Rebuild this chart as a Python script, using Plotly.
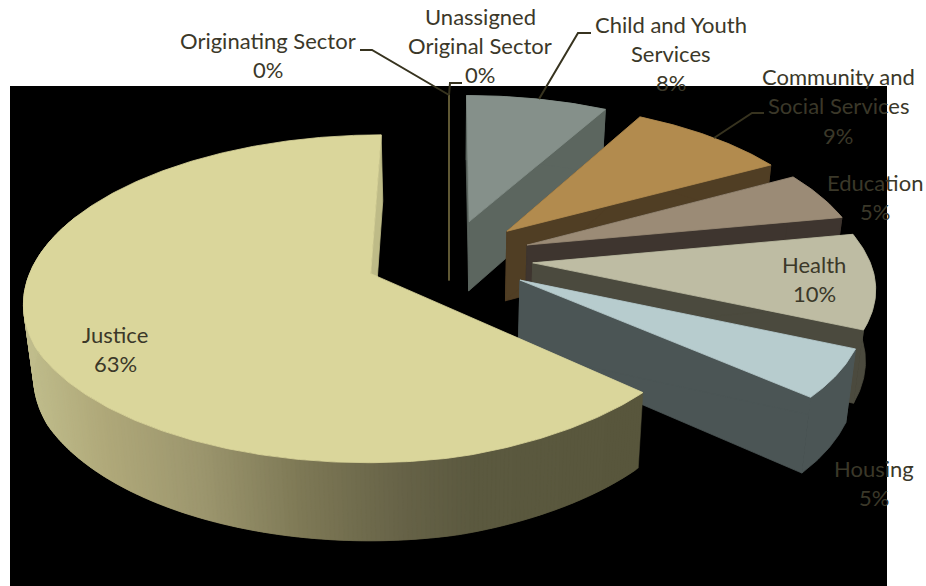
import numpy as np
import plotly.graph_objects as go

# Sector shares, in clockwise order from twelve o'clock
sectors = ["Originating Sector", "Unassigned Original Sector", "Child and Youth Services",
           "Community and Social Services", "Education", "Health", "Housing", "Justice"]
shares = [0, 0, 8, 9, 5, 10, 5, 63]
top_colors = ["#655f38", "#655f38", "#85908a", "#b28b4e", "#9b8b76", "#bebca3", "#b7ccce", "#dad69b"]
wall_colors = ["#655f38", "#655f38", "#5c665f", "#503e24", "#3e352f", "#4b4a3e", "#4b5555", "#bebb87"]

# Text rows per label: centre x, centre y, text
label_rows = [
    (268, 42, "Originating Sector"), (268, 71, "0%"),
    (480, 18, "Unassigned"), (480, 47, "Original Sector"), (480, 76, "0%"),
    (671, 26, "Child and Youth"), (671, 55, "Services"), (671, 84, "8%"),
    (838, 78, "Community and"), (838, 107, "Social Services"), (838, 137, "9%"),
    (875, 184, "Education"), (875, 213, "5%"),
    (814, 266, "Health"), (814, 295, "10%"),
    (874, 470, "Housing"), (874, 499, "5%"),
    (115, 336, "Justice"), (115, 365, "63%"),
]
leaders = [
    ([360, 372, 449], [50, 50, 95]),
    ([462, 450, 449], [83, 83, 95]),
    ([591, 578, 539], [33, 33, 99]),
    ([764, 752, 714], [113, 113, 138]),
]

# Camera for the tilted pie: centre on screen, radii and perspective strength
CX, CY = 449.0, 258.0
RX, RY = 336.0, 155.3
PERSPECTIVE = 0.151
EXPLODE = 0.25
ZERO_SLICE_DEPTH = 60
TEXT_COLOR = "#3b3829"
LEADER_COLOR = "#37331f"

# Shading of the long rim of the largest slice, by screen x
RIM_X = [25, 100, 200, 300, 400, 470, 650]
RIM_R = [192, 176, 156, 126, 103, 92, 88]
RIM_G = [189, 169, 150, 121, 99, 90, 86]
RIM_B = [140, 122, 110, 86, 72, 64, 60]


def project(u, v):
    # small lens correction for the near right-hand quadrant of the disc
    v = v - 0.045 * np.maximum(u, 0) * np.maximum(v, 0)
    u = u + 0.05 * np.maximum(v - 0.55, 0)
    d = 1 - PERSPECTIVE * v
    return CX + RX * u / d, CY + RY * v / d


def drop(x, y):
    """Map a point on the top face to the matching point on the bottom face."""
    return CX + (x - CX) * 0.976, y * 1.037 + 61


def polar(deg, offset):
    a = np.radians(deg)
    return offset[0] + np.sin(a), offset[1] - np.cos(a)


fig = go.Figure()


def polygon(x, y, color, width=0.8):
    x, y = np.asarray(x, float), np.asarray(y, float)
    fig.add_trace(go.Scatter(
        x=np.r_[x, x[0]], y=np.r_[y, y[0]], mode="lines", fill="toself",
        fillcolor=color, line=dict(color=color, width=width),
        hoverinfo="skip", showlegend=False))


def band(x1, y1, color, width=0.8):
    x2, y2 = drop(x1, y1)
    polygon(np.r_[x1, x2[::-1]], np.r_[y1, y2[::-1]], color, width)


def draw_slice(start, sweep, top, wall, is_rim_shaded):
    mid = np.radians(start + sweep / 2)
    offset = (EXPLODE * np.sin(mid), -EXPLODE * np.cos(mid))
    angles = np.linspace(start, start + sweep, max(2, int(sweep * 1.5) + 2))
    u, v = polar(angles, offset)
    ax, ay = project(np.array([offset[0]]), np.array([offset[1]]))
    ox, oy = project(u, v)

    if sweep == 0:
        # an empty slice only shows as a thin vertical sliver
        polygon(np.r_[ox[0], ax], np.r_[oy[0], ay + ZERO_SLICE_DEPTH], wall, 1.5)
        return

    # closing radial face, then opening radial face, then the curved rim
    band(np.r_[ax, ox[-1]], np.r_[ay, oy[-1]], wall)
    if not is_rim_shaded:
        band(np.r_[ax, ox[0]], np.r_[ay, oy[0]], wall)
        band(ox, oy, wall)
    else:
        # overlapping strips, painted in sequence so no seams show
        last = np.where(angles < 292)[0][-1]
        for i in range(last):
            xm = (ox[i] + ox[i + 1]) / 2
            rgb = [np.interp(xm, RIM_X, c) for c in (RIM_R, RIM_G, RIM_B)]
            band(ox[i:i + 3], oy[i:i + 3], "rgb(%d,%d,%d)" % tuple(rgb), 0.5)
    polygon(np.r_[ax, ox], np.r_[ay, oy], top)


cumulative = 0.0
for name, share, top, wall in zip(sectors, shares, top_colors, wall_colors):
    sweep = share * 3.6
    draw_slice(cumulative, sweep, top, wall, name == "Justice")
    cumulative += sweep

for lx, ly in leaders:
    fig.add_trace(go.Scatter(x=lx, y=ly, mode="lines",
                             line=dict(color=LEADER_COLOR, width=2),
                             hoverinfo="skip", showlegend=False))

annotations = [
    dict(x=x, y=y, text=t, xref="x", yref="y", showarrow=False, xanchor="center", yanchor="middle",
         yshift=2, font=dict(family="Lato", size=22, color=TEXT_COLOR))
    for x, y, t in label_rows
]

fig.update_layout(
    width=926, height=586, margin=dict(l=0, r=0, t=0, b=0),
    paper_bgcolor="white", plot_bgcolor="white", showlegend=False,
    xaxis=dict(range=[0, 926], visible=False, fixedrange=True),
    yaxis=dict(range=[586, 0], visible=False, fixedrange=True),
    shapes=[dict(type="rect", xref="x", yref="y", x0=10, x1=887, y0=86, y1=586,
                 fillcolor="black", line=dict(width=0), layer="below")],
    annotations=annotations,
)
fig.write_html("out.html", config=dict(displayModeBar=False))
